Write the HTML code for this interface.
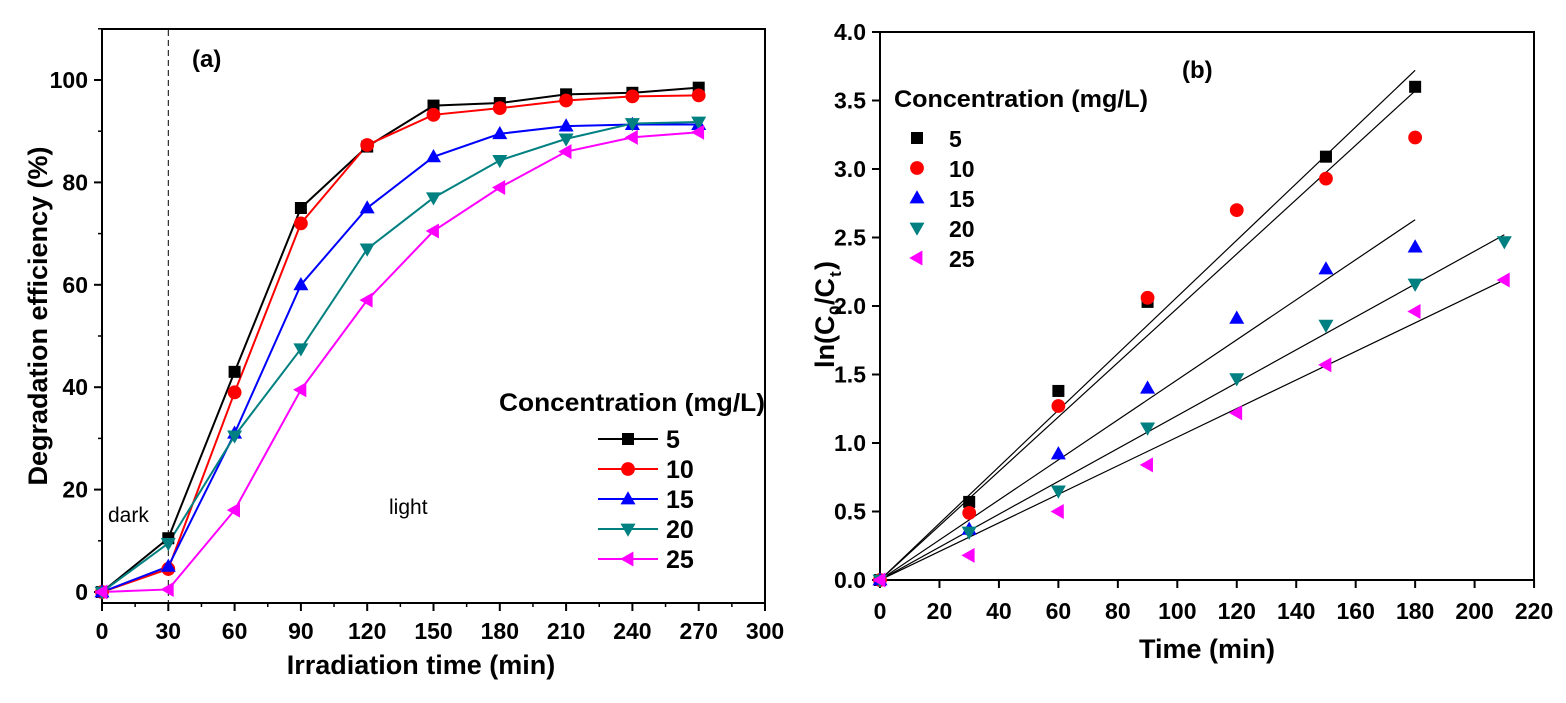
<!DOCTYPE html>
<html><head><meta charset="utf-8"><style>
html,body{margin:0;padding:0;background:#fff;}
svg text{font-family:"Liberation Sans",Arial,sans-serif;}
</style></head><body>
<svg id="s" width="1566" height="698" xmlns="http://www.w3.org/2000/svg"></svg>
<script>
const s=document.getElementById('s');let h='';
function mk(t,x,y,sz,c){
 const r=sz;
 if(t=='sq')return `<rect x="${x-r}" y="${y-r}" width="${2*r}" height="${2*r}" fill="${c}"/>`;
 if(t=='ci')return `<circle cx="${x}" cy="${y}" r="${r*1.15}" fill="${c}"/>`;
 if(t=='up')return `<polygon points="${x},${y-r*1.3} ${x-r*1.25},${y+r*0.9} ${x+r*1.25},${y+r*0.9}" fill="${c}"/>`;
 if(t=='dn')return `<polygon points="${x},${y+r*1.3} ${x-r*1.25},${y-r*0.9} ${x+r*1.25},${y-r*0.9}" fill="${c}"/>`;
 if(t=='lf')return `<polygon points="${x-r*1.3},${y} ${x+r*0.9},${y-r*1.25} ${x+r*0.9},${y+r*1.25}" fill="${c}"/>`;
}
const cols=['#000','#f00','#00f','#008080','#f0f'],mks=['sq','ci','up','dn','lf'],labs=['5','10','15','20','25'];
const ax=x=>102+x*2.21, ay=y=>592-y*5.12;
h+=`<rect x="102" y="29" width="663" height="574" fill="none" stroke="#000" stroke-width="2"/>`;
for(let x=0;x<=300;x+=30){h+=`<line x1="${ax(x)}" y1="603" x2="${ax(x)}" y2="611" stroke="#000" stroke-width="2"/><text x="${ax(x)}" y="639" font-size="23" font-weight="bold" text-anchor="middle">${x}</text>`;}
for(let x=15;x<300;x+=30)h+=`<line x1="${ax(x)}" y1="603" x2="${ax(x)}" y2="607" stroke="#000" stroke-width="1.5"/>`;
for(let y=0;y<=100;y+=20){h+=`<line x1="94" y1="${ay(y)}" x2="102" y2="${ay(y)}" stroke="#000" stroke-width="2"/><text x="88" y="${ay(y)+8}" font-size="23" font-weight="bold" text-anchor="end">${y}</text>`;}
for(let y=10;y<=110;y+=20)h+=`<line x1="98" y1="${ay(y)}" x2="102" y2="${ay(y)}" stroke="#000" stroke-width="1.5"/>`;
h+=`<line x1="${ax(30)}" y1="30" x2="${ax(30)}" y2="602" stroke="#000" stroke-width="1" stroke-dasharray="6,4"/>`;
const A=[[0,10.5,43,75,87,95,95.5,97.2,97.5,98.5],[0,4.5,39,72,87.3,93.2,94.5,96,96.8,97],[0,5,31,60,75,85,89.5,91,91.3,91.3],[0,9.5,30.5,47.5,67,77,84.3,88.5,91.5,91.8],[0,0.5,16,39.5,57,70.5,79,86,88.8,89.8]];
A.forEach((d,i)=>{h+=`<polyline fill="none" stroke="${cols[i]}" stroke-width="2" points="${d.map((v,j)=>ax(j*30)+','+ay(v)).join(' ')}"/>`;});
A.forEach((d,i)=>{d.forEach((v,j)=>h+=mk(mks[i],ax(j*30),ay(v),6,cols[i]));});
h+=`<text x="192" y="67" font-size="24" font-weight="bold">(a)</text>`;
h+=`<text x="108" y="522" font-size="21">dark</text><text x="389" y="514" font-size="21">light</text>`;
h+=`<text x="499" y="411" font-size="25" font-weight="bold" textLength="266" lengthAdjust="spacingAndGlyphs">Concentration (mg/L)</text>`;
labs.forEach((l,i)=>{const y=439+i*30;h+=`<line x1="598" y1="${y}" x2="658" y2="${y}" stroke="${cols[i]}" stroke-width="2"/>`+mk(mks[i],628,y,6,cols[i])+`<text x="666" y="${y+9}" font-size="25" font-weight="bold">${l}</text>`;});
h+=`<text transform="translate(47,316) rotate(-90)" font-size="27" font-weight="bold" text-anchor="middle">Degradation efficiency (%)</text>`;
h+=`<text x="421" y="674" font-size="27" font-weight="bold" text-anchor="middle">Irradiation time (min)</text>`;
const bx=x=>880+x*2.973, by=y=>580-y*137;
h+=`<rect x="880" y="32" width="654" height="548" fill="none" stroke="#000" stroke-width="2"/>`;
for(let x=0;x<=220;x+=20){h+=`<line x1="${bx(x)}" y1="580" x2="${bx(x)}" y2="588" stroke="#000" stroke-width="2"/><text x="${bx(x)}" y="619" font-size="23" font-weight="bold" text-anchor="middle">${x}</text>`;}
for(let y=0;y<=4;y+=0.5){h+=`<line x1="872" y1="${by(y)}" x2="880" y2="${by(y)}" stroke="#000" stroke-width="2"/><text x="866" y="${by(y)+8}" font-size="23" font-weight="bold" text-anchor="end">${y.toFixed(1)}</text>`;}
[[180,3.72],[180,3.57],[180,2.63],[210,2.52],[210,2.19]].forEach(p=>h+=`<line x1="${bx(0)}" y1="${by(0)}" x2="${bx(p[0])}" y2="${by(p[1])}" stroke="#000" stroke-width="1.2"/>`);
const B=[[0,0.57,1.38,2.03,null,3.09,3.6],[0,0.49,1.27,2.06,2.70,2.93,3.23],[0,0.37,0.92,1.40,1.91,2.27,2.43],[0,0.35,0.65,1.11,1.47,1.86,2.16,2.47],[0,0.18,0.50,0.84,1.22,1.57,1.96,2.19]];
B.forEach((d,i)=>d.forEach((v,j)=>{if(v!==null)h+=mk(mks[i],bx(j*30),by(v),6,cols[i]);}));
h+=`<text x="1182" y="78" font-size="24" font-weight="bold">(b)</text>`;
h+=`<text x="894" y="107" font-size="24" font-weight="bold" textLength="254" lengthAdjust="spacingAndGlyphs">Concentration (mg/L)</text>`;
labs.forEach((l,i)=>{const y=138+i*30;h+=mk(mks[i],917,y,6,cols[i])+`<text x="949" y="${y+9}" font-size="23" font-weight="bold">${l}</text>`;});
h+=`<g transform="translate(834,368) rotate(-90)"><text x="0" y="0" font-size="27" font-weight="bold">ln(C</text><text x="53" y="7" font-size="17" font-weight="bold">0</text><text x="63" y="0" font-size="27" font-weight="bold">/C</text><text x="91" y="7" font-size="17" font-weight="bold">t</text><text x="98" y="0" font-size="27" font-weight="bold">)</text></g>`;
h+=`<text x="1207" y="658" font-size="27" font-weight="bold" text-anchor="middle">Time (min)</text>`;
s.innerHTML=h;
</script>
</body></html>
